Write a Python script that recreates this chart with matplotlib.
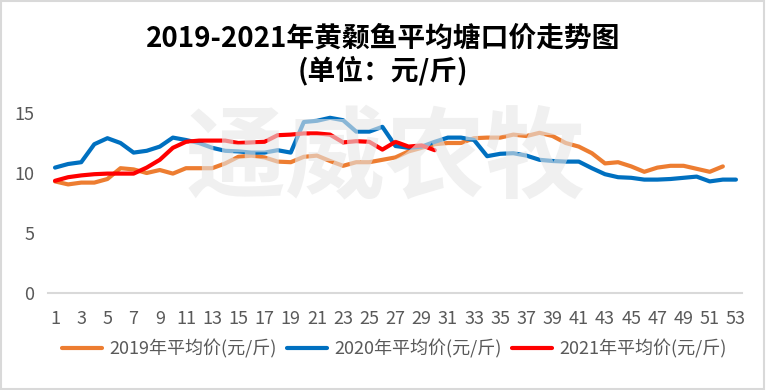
import numpy as np
import matplotlib
matplotlib.use("Agg")
import matplotlib.pyplot as plt
from matplotlib.patches import Rectangle

plt.rcParams['font.family'] = ['Liberation Sans Narrow', 'Noto Sans CJK SC', 'DejaVu Sans']

# weekly average pond price (yuan/jin)
p2019 = [9.3, 9.05, 9.2, 9.2, 9.5, 10.4, 10.3, 10.0, 10.25, 9.95,
         10.4, 10.4, 10.4, 10.8, 11.35, 11.45, 11.3, 10.95, 10.9, 11.35,
         11.45, 11.0, 10.6, 10.9, 10.9, 11.1, 11.3, 11.8, 12.1, 12.4,
         12.5, 12.5, 12.9, 12.95, 12.95, 13.2, 13.08, 13.35, 13.08, 12.5,
         12.2, 11.65, 10.8, 10.9, 10.55, 10.1, 10.45, 10.6, 10.6, 10.35,
         10.1, 10.55]
p2020 = [10.45, 10.75, 10.9, 12.4, 12.9, 12.5, 11.7, 11.85, 12.2, 12.95,
         12.75, 12.5, 12.1, 11.85, 11.8, 11.7, 11.7, 11.9, 11.7, 14.25,
         14.35, 14.6, 14.4, 13.45, 13.45, 13.85, 12.25, 12.1, 12.2, 12.6,
         12.95, 12.95, 12.75, 11.4, 11.6, 11.65, 11.45, 11.1, 11.0, 10.95,
         10.95, 10.4, 9.9, 9.65, 9.6, 9.45, 9.45, 9.5, 9.6, 9.7,
         9.3, 9.45, 9.45]
p2021 = [9.35, 9.65, 9.8, 9.9, 9.95, 9.95, 9.95, 10.45, 11.1, 12.1,
         12.6, 12.7, 12.7, 12.7, 12.5, 12.55, 12.6, 13.15, 13.2, 13.3,
         13.3, 13.2, 12.55, 12.65, 12.6, 11.95, 12.6, 12.2, 12.3, 11.9]
labels = ["2019年平均价(元/斤)", "2020年平均价(元/斤)", "2021年平均价(元/斤)"]
colors = ["#ED7D31", "#0070C0", "#FF0000"]

fig = plt.figure(figsize=(7.66, 3.90), dpi=100)
ax = fig.add_axes([0.0633, 0.2487, 0.906, 0.5077])

for vals, lab, c in zip([p2019, p2020, p2021], labels, colors):
    weeks = np.arange(1, len(vals) + 1)
    ax.plot(weeks, vals, color=c, lw=3, label=lab, solid_capstyle='round')

ax.set_xlim(0.5, 53.5)
ax.set_ylim(0, 16.5)
ax.set_yticks([0, 5, 10, 15])
ax.set_xticks(np.arange(1, 54, 2))
ax.tick_params(axis='both', length=0, labelsize=13, labelcolor='#595959')
ax.tick_params(axis='x', pad=12)
ax.tick_params(axis='y', pad=10)
for s in ['top', 'right', 'left']:
    ax.spines[s].set_visible(False)
ax.spines['bottom'].set_color('#d9d9d9')
ax.spines['bottom'].set_linewidth(1.5)

# watermark
fig.text(0.503, 0.59, "通威农牧", fontsize=72, fontweight='bold', color='#e6e6e6',
         alpha=0.6, ha='center', va='center', family=['Noto Sans CJK SC'], zorder=10)

fig.text(0.5, 0.902, "2019-2021年黄颡鱼平均塘口价走势图", fontsize=20, fontweight='bold',
         ha='center', va='center', family=['Noto Sans CJK SC', 'DejaVu Sans'])
fig.text(0.5, 0.82, "(单位：元/斤)", fontsize=20, fontweight='bold',
         ha='center', va='center', family=['Noto Sans CJK SC', 'DejaVu Sans'])

fig.legend(loc='center', bbox_to_anchor=(0.515, 0.105), ncol=3, frameon=False,
           fontsize=13, handlelength=2.2, columnspacing=0.6, handletextpad=0.4,
           labelcolor='#595959')

fig.patches.append(Rectangle((0.001, 0.002), 0.997, 0.995, transform=fig.transFigure,
                             fill=False, edgecolor='#d9d9d9', lw=1.5))

fig.savefig("out.png", dpi=100)
